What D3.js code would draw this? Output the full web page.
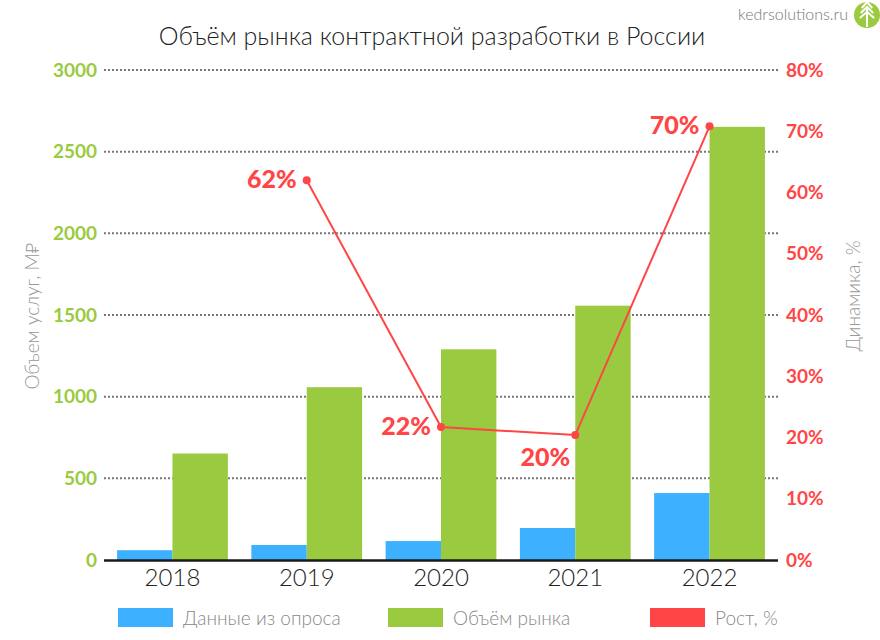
<!DOCTYPE html>
<html><head><meta charset="utf-8">
<script src="https://cdn.jsdelivr.net/npm/d3@7"></script>
<style>body{margin:0;background:#fff}svg{display:block}text{font-family:Lato,"Noto Sans",sans-serif}</style>
</head><body><svg id="c" width="880" height="640"></svg>
<script>
const years = ["2018","2019","2020","2021","2022"];
const surveyData = [60, 92, 116, 196, 410];
const marketVolume = [652, 1058, 1290, 1557, 2652];
const growthYears = ["2019","2020","2021","2022"];
const growthPct = [62, 21.7, 20.4, 70.8];
const growthLabels = ["62%","22%","20%","70%"];
const leftTicks = [0,500,1000,1500,2000,2500,3000];
const rightTicks = [0,10,20,30,40,50,60,70,80];
const legendItems = ["Данные из опроса","Объём рынка","Рост, %"];

const BLUE="#3DB1FF", GREEN="#99CA3F", RED="#FF4545";
const FONT="Lato,'Noto Sans',sans-serif";
const svg = d3.select("#c");
const L=105, R=777, T=70, B=560;

const x = d3.scaleBand().domain(years).range([L,R]).paddingInner(0.175).paddingOuter(0.09);
const xs = d3.scaleBand().domain(["s","m"]).range([0,x.bandwidth()]);
const y = d3.scaleLinear().domain([0,3000]).range([B,T]);
const y2 = d3.scaleLinear().domain([0,80]).range([B,T]);

svg.append("text").attr("x",432).attr("y",45).attr("text-anchor","middle")
  .attr("font-size",25).attr("font-weight",300).attr("fill","#222").text("Объём рынка контрактной разработки в России");

// gridlines
svg.append("g").selectAll("line").data(leftTicks.filter(d=>d>0)).join("line")
  .attr("x1",L-1).attr("x2",R+1).attr("y1",d=>y(d)).attr("y2",d=>y(d))
  .attr("stroke","#777").attr("stroke-width",2).attr("stroke-dasharray","2,2");

// left axis
const la = svg.append("g").attr("transform",`translate(${L-8},0)`)
  .call(d3.axisLeft(y).tickValues(leftTicks).tickSize(0).tickPadding(0).tickFormat(d3.format("d")));
la.select(".domain").remove();
la.selectAll("text").attr("font-size",19).attr("font-weight","bold").attr("fill",GREEN).attr("font-family",FONT);

// right axis
const ra = svg.append("g").attr("transform",`translate(${R+9},0)`)
  .call(d3.axisRight(y2).tickValues(rightTicks).tickSize(0).tickPadding(0).tickFormat(d=>d+"%"));
ra.select(".domain").remove();
ra.selectAll("text").attr("font-size",19).attr("font-weight","bold").attr("fill",RED).attr("font-family",FONT);

// bars
const g = svg.append("g");
g.selectAll("rect.s").data(years).join("rect").attr("class","s")
  .attr("x",d=>x(d)+xs("s")).attr("width",xs.bandwidth())
  .attr("y",(d,i)=>y(surveyData[i])).attr("height",(d,i)=>B-y(surveyData[i])).attr("fill",BLUE);
g.selectAll("rect.m").data(years).join("rect").attr("class","m")
  .attr("x",d=>x(d)+xs("m")).attr("width",xs.bandwidth())
  .attr("y",(d,i)=>y(marketVolume[i])).attr("height",(d,i)=>B-y(marketVolume[i])).attr("fill",GREEN);

// baseline
svg.append("line").attr("x1",L-1).attr("x2",R+1).attr("y1",B+0.5).attr("y2",B+0.5)
  .attr("stroke","#1a1a1a").attr("stroke-width",2.5);

// x axis
const xa = svg.append("g").attr("transform",`translate(0,${B})`)
  .call(d3.axisBottom(x).tickSize(0).tickPadding(9));
xa.select(".domain").remove();
xa.selectAll("text").attr("font-size",24).attr("font-weight",300).attr("fill","#222").attr("font-family",FONT);

// line
const cx = d=>x(d)+x.bandwidth()/2;
const line = d3.line().x((d,i)=>cx(growthYears[i])).y(d=>y2(d));
svg.append("path").datum(growthPct).attr("d",line).attr("fill","none").attr("stroke",RED).attr("stroke-width",2);
svg.selectAll("circle.p").data(growthPct).join("circle").attr("class","p")
  .attr("cx",(d,i)=>cx(growthYears[i])).attr("cy",d=>y2(d)).attr("r",4).attr("fill",RED);
const lblOff = [[-10,8,"end"],[-10,8,"end"],[-30,31,"middle"],[-10,8,"end"]];
svg.selectAll("text.pl").data(growthPct).join("text").attr("class","pl")
  .attr("x",(d,i)=>cx(growthYears[i])+lblOff[i][0]).attr("y",(d,i)=>y2(d)+lblOff[i][1])
  .attr("text-anchor",(d,i)=>lblOff[i][2]).attr("font-size",25).attr("font-weight",900).attr("fill",RED)
  .text((d,i)=>growthLabels[i]);

// axis titles
svg.append("text").attr("transform","translate(39,316) rotate(-90)").attr("text-anchor","middle")
  .attr("font-size",19).attr("font-weight",300).attr("fill","#999").text("Объем услуг, М₽");
svg.append("text").attr("transform","translate(860,296) rotate(-90)").attr("text-anchor","middle")
  .attr("font-size",19).attr("font-weight",300).attr("fill","#999").text("Динамика, %");

// legend
const legX = [118, 388, 650];
const legC = [BLUE, GREEN, RED];
const lg = svg.append("g");
lg.selectAll("rect").data(legendItems).join("rect").attr("x",(d,i)=>legX[i]).attr("y",608)
  .attr("width",55).attr("height",19).attr("fill",(d,i)=>legC[i]);
lg.selectAll("text").data(legendItems).join("text").attr("x",(d,i)=>legX[i]+65).attr("y",625)
  .attr("font-size",19).attr("font-weight",300).attr("fill","#888").text(d=>d);

// logo
svg.append("text").attr("x",848).attr("y",20).attr("text-anchor","end").attr("font-size",16).attr("font-weight",300).attr("fill","#777").text("kedrsolutions.ru");
svg.append("circle").attr("cx",867).attr("cy",15).attr("r",13).attr("fill",GREEN);
const lgG = svg.append("g").attr("fill","none").attr("stroke","#fff").attr("stroke-width",2);
[[5,-4],[10,1],[15,6]].forEach(([yy,w])=>{
  lgG.append("polyline").attr("points",`${861-w*0.2},${yy+3} 867,${yy-3} ${873+w*0.2},${yy+3}`);
});
lgG.append("line").attr("x1",867).attr("x2",867).attr("y1",8).attr("y2",27);
</script></body></html>
